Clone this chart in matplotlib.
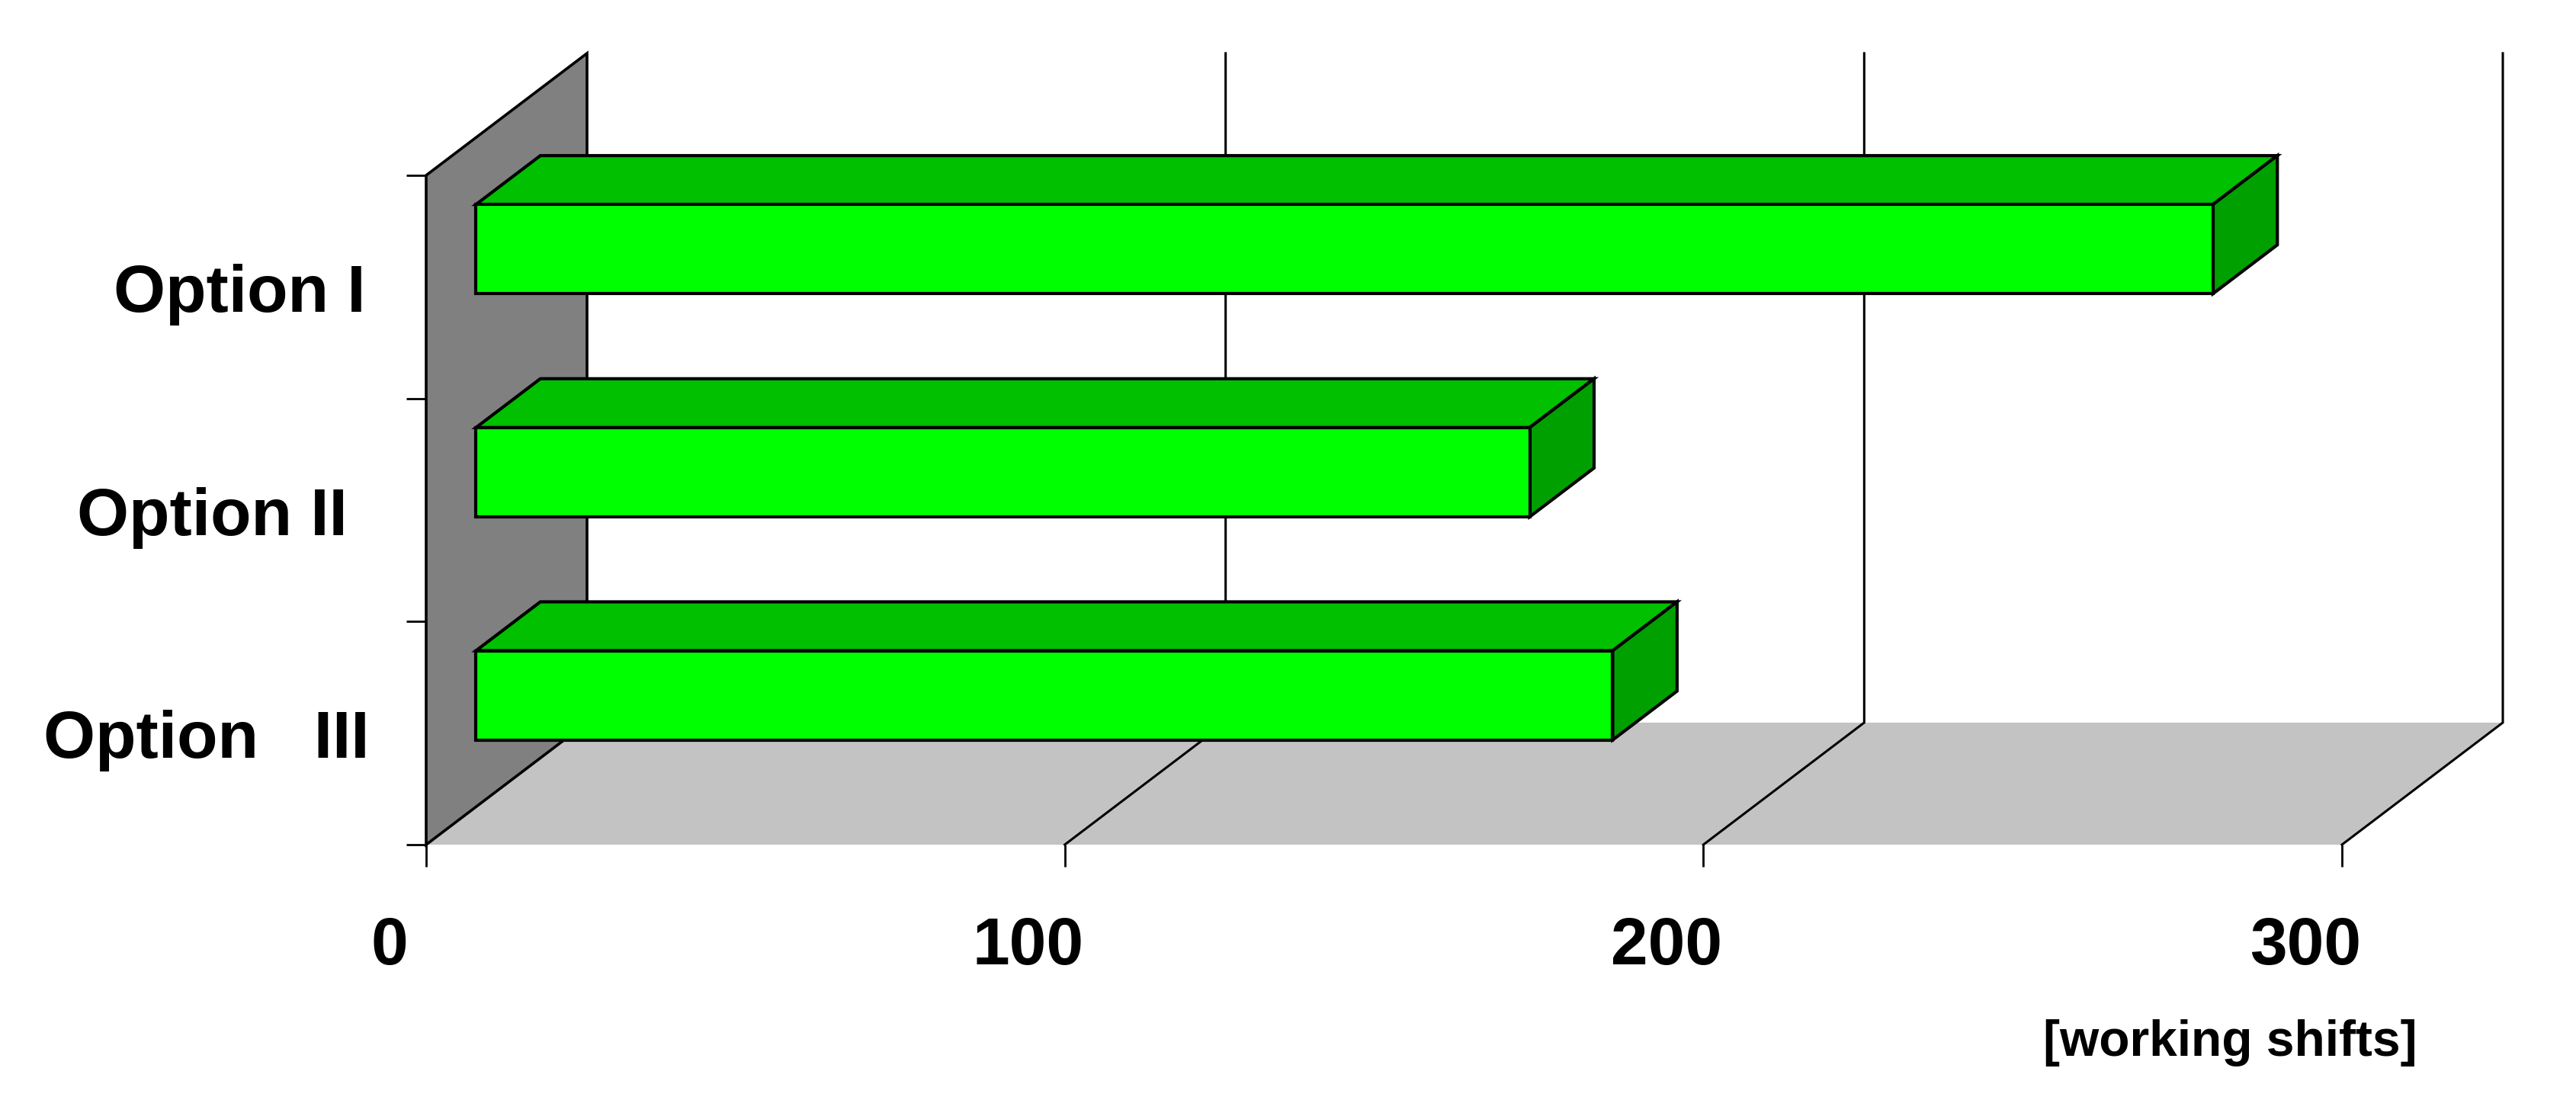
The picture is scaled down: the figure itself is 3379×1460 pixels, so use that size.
import matplotlib
matplotlib.use('Agg')
import matplotlib.pyplot as plt
from matplotlib.patches import Polygon
from matplotlib.transforms import ScaledTranslation

plt.rcParams['font.family'] = ['Liberation Sans', 'DejaVu Sans']

# values
categories = ['Option I', 'Option II', 'Option   III']
working_shifts = [272, 165, 178]
x_ticks = [0, 100, 200, 300]
x_tick_labels = ['0', '100', '200', '300']

W, H = 3380, 1460
DPI = 100

# 3D look: how far the back of the chart sits from the front, in data units
DEPTH_X = 25.19
DEPTH_Y = 0.547
BAR_FRONT = 0.31
BAR_BACK = 0.71
BAR_HEIGHT = 0.4

# right edge of the category labels, pixels left of the axis
label_right_px = [79, 103, 74]


def proj(value, y, depth):
    return (value + depth * DEPTH_X, y + depth * DEPTH_Y)


def draw_bar(ax, value, center):
    y0 = center - BAR_HEIGHT / 2
    y1 = center + BAR_HEIGHT / 2
    front = [proj(0, y0, BAR_FRONT), proj(value, y0, BAR_FRONT), proj(value, y1, BAR_FRONT), proj(0, y1, BAR_FRONT)]
    top = [proj(0, y1, BAR_FRONT), proj(value, y1, BAR_FRONT), proj(value, y1, BAR_BACK), proj(0, y1, BAR_BACK)]
    side = [proj(value, y0, BAR_FRONT), proj(value, y0, BAR_BACK), proj(value, y1, BAR_BACK), proj(value, y1, BAR_FRONT)]
    for pts, color in [(top, '#00C000'), (side, '#00A000'), (front, '#00FF00')]:
        ax.add_patch(Polygon(pts, closed=True, facecolor=color, edgecolor='black', lw=3.0,
                             joinstyle='miter', clip_on=False, zorder=5))


fig = plt.figure(figsize=(W / DPI, H / DPI), dpi=DPI, facecolor='white')
ax = fig.add_axes([559 / W, (H - 1108) / H, (3072 - 559) / W, (1108 - 230) / H])
ax.set_xlim(0, 300)
ax.set_ylim(0, len(categories))
ax.patch.set_visible(False)
for spine in ax.spines.values():
    spine.set_visible(False)

x_max = x_ticks[-1]
y_max = len(categories)

# floor
ax.add_patch(Polygon([proj(0, 0, 0), proj(x_max, 0, 0), proj(x_max, 0, 1), proj(0, 0, 1)], closed=True,
                     facecolor='#C3C3C3', edgecolor='none', clip_on=False, zorder=1))

# back grid lines and their diagonals across the floor
for t in x_ticks[1:]:
    xs, ys = zip(proj(t, 0, 0), proj(t, 0, 1), proj(t, y_max, 1))
    ax.plot(xs, ys, color='black', lw=2.2, clip_on=False, zorder=2, solid_joinstyle='miter')

# side wall
ax.add_patch(Polygon([proj(0, 0, 0), proj(0, 0, 1), proj(0, y_max, 1), proj(0, y_max, 0)], closed=True,
                     facecolor='#808080', edgecolor='black', lw=2.6, joinstyle='miter', clip_on=False, zorder=3))

# bars
for i, value in enumerate(working_shifts):
    draw_bar(ax, value, y_max - i - 0.5)

# ticks
ax.set_yticks(range(y_max + 1))
ax.set_yticklabels([])
ax.tick_params(axis='y', direction='out', length=19, width=2, color='black')
ax.set_xticks(x_ticks)
ax.set_xticklabels(x_tick_labels, fontsize=63, fontweight='bold')
ax.tick_params(axis='x', direction='out', length=21, width=2, color='black', pad=47)
# the tick labels sit left of their ticks in the original
shift = ScaledTranslation(-48 / DPI, 0, fig.dpi_scale_trans)
for label in ax.get_xticklabels():
    label.set_transform(label.get_transform() + shift)

# category labels
for i, name in enumerate(categories):
    ax.annotate(name, xy=(0, y_max - i - 0.5), xytext=(-label_right_px[i] * 72 / DPI, -10 * 72 / DPI),
                textcoords='offset points', ha='right', va='center', fontsize=63, fontweight='bold')

# unit label
ax.annotate('[working shifts]', xy=(300, 0), xytext=(99 * 72 / DPI, -260 * 72 / DPI), textcoords='offset points',
            ha='right', va='center', fontsize=47.4, fontweight='bold', annotation_clip=False)

fig.savefig('out.png', dpi=DPI)
